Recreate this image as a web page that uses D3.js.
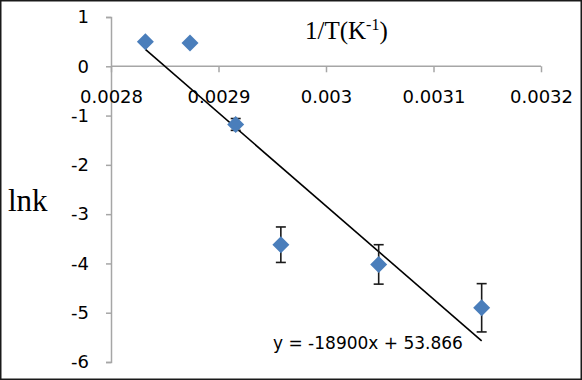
<!DOCTYPE html>
<html>
<head>
<meta charset="utf-8">
<script src="https://cdn.jsdelivr.net/npm/d3@7"></script>
<style>
  body { margin: 0; background: #fff; }
  svg { display: block; }
</style>
</head>
<body>
<div id="chart"></div>
<script>
// data
let invT = [0.002832, 0.0028735, 0.002916, 0.002958, 0.003049, 0.0031448];
let lnk = [0.50, 0.47, -1.18, -3.62, -4.02, -4.90];
let errs = [0, 0, 0.12, 0.36, 0.40, 0.49];
let xTicks = [0.0028, 0.0029, 0.003, 0.0031, 0.0032];
let yTicks = [1, 0, -1, -2, -3, -4, -5, -6];
let slope = -18900, intercept = 53.866;

let width = 582, height = 380;

let svg = d3.select("#chart").append("svg")
    .attr("width", width)
    .attr("height", height);

// outer frame
svg.append("rect")
    .attr("x", 0.75).attr("y", 0.75)
    .attr("width", width - 1.5).attr("height", height - 1.5)
    .attr("fill", "#fff")
    .attr("stroke", "#1a1a1a")
    .attr("stroke-width", 1.5);

let x = d3.scaleLinear().domain([0.0028, 0.0032]).range([111, 541]);
let y = d3.scaleLinear().domain([-6, 1]).range([362, 17]);

let axisColor = "#a6a6a6";
let tickFont = "'DejaVu Sans', sans-serif";

// y axis
let yAxis = svg.append("g")
    .attr("transform", "translate(" + x(0.0028) + ",0)")
    .call(d3.axisLeft(y).tickValues(yTicks).tickSize(5).tickPadding(17)
        .tickFormat(function (d) { return String(d); }));
yAxis.selectAll("path, line").attr("stroke", axisColor).attr("stroke-width", 1.5);
yAxis.selectAll("text")
    .attr("font-family", tickFont)
    .attr("font-size", 18)
    .attr("fill", "#000");

// x axis crosses at y = 0
let xAxis = svg.append("g")
    .attr("transform", "translate(0," + y(0) + ")")
    .call(d3.axisBottom(x).tickValues(xTicks).tickSize(6).tickPadding(18)
        .tickFormat(function (d) { return String(+d.toFixed(4)); }));
xAxis.selectAll("path, line").attr("stroke", axisColor).attr("stroke-width", 1.5);
xAxis.selectAll("text")
    .attr("font-family", tickFont)
    .attr("font-size", 18)
    .attr("fill", "#000");
xAxis.select(".domain").attr("d", "M" + x(0.0028) + ",0H" + x(0.0032));

// trend line across the data range
let xMin = d3.min(invT), xMax = d3.max(invT);
svg.append("line")
    .attr("x1", x(xMin)).attr("y1", y(slope * xMin + intercept))
    .attr("x2", x(xMax)).attr("y2", y(slope * xMax + intercept))
    .attr("stroke", "#000")
    .attr("stroke-width", 1.6);

let pts = invT.map(function (d, i) { return {x: d, y: lnk[i], e: errs[i]}; });

// error bars
let eb = svg.append("g").selectAll("g")
    .data(pts.filter(function (d) { return d.e > 0; }))
    .enter().append("g")
    .attr("stroke", "#1a1a1a")
    .attr("stroke-width", 1.6);
eb.append("line")
    .attr("x1", function (d) { return x(d.x); })
    .attr("x2", function (d) { return x(d.x); })
    .attr("y1", function (d) { return y(d.y + d.e); })
    .attr("y2", function (d) { return y(d.y - d.e); });
[1, -1].forEach(function (s) {
    eb.append("line")
        .attr("x1", function (d) { return x(d.x) - 5; })
        .attr("x2", function (d) { return x(d.x) + 5; })
        .attr("y1", function (d) { return y(d.y + s * d.e); })
        .attr("y2", function (d) { return y(d.y + s * d.e); });
});

// diamond markers
svg.append("g").selectAll("path")
    .data(pts)
    .enter().append("path")
    .attr("d", "M0,-8.5L8.5,0L0,8.5L-8.5,0Z")
    .attr("transform", function (d) {
        return "translate(" + x(d.x) + "," + y(d.y) + ")";
    })
    .attr("fill", "#4a7ebb");

// axis titles
let title = svg.append("text")
    .attr("x", 305).attr("y", 39)
    .attr("font-family", "'Liberation Serif', 'Times New Roman', serif")
    .attr("font-size", 25)
    .attr("fill", "#000");
title.append("tspan").text("1/T(K");
title.append("tspan").attr("font-size", 16).attr("dy", -9).text("-1");
title.append("tspan").attr("dy", 9).text(")");

svg.append("text")
    .attr("x", 8).attr("y", 211)
    .attr("font-family", "'Liberation Serif', 'Times New Roman', serif")
    .attr("font-size", 31)
    .attr("fill", "#000")
    .text("lnk");

// trend equation
svg.append("text")
    .attr("x", 273).attr("y", 349)
    .attr("font-family", tickFont)
    .attr("font-size", 17)
    .attr("fill", "#000")
    .text("y = -18900x + 53.866");
</script>
</body>
</html>
